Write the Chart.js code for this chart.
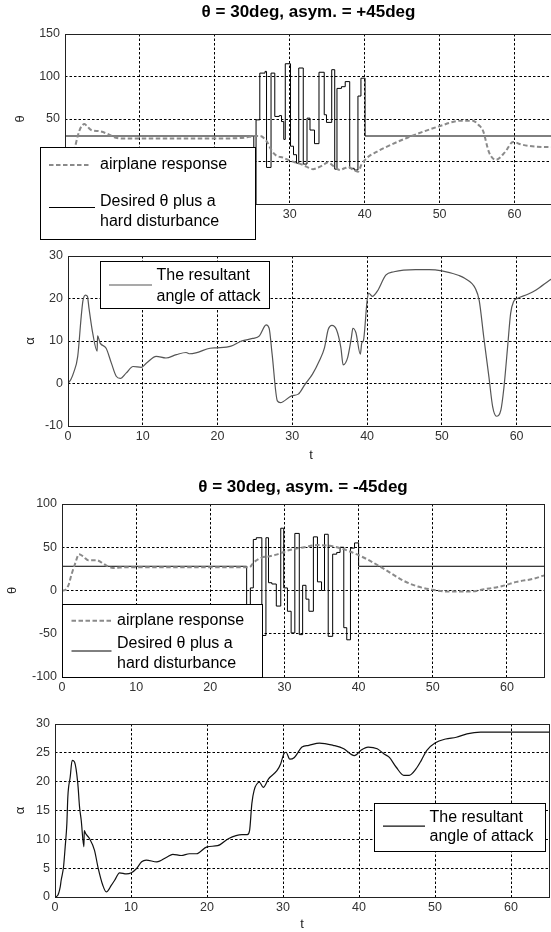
<!DOCTYPE html>
<html>
<head>
<meta charset="utf-8">
<script src="https://cdn.jsdelivr.net/npm/chart.js@4.4.0/dist/chart.umd.min.js"></script>
<style>
  html, body { margin: 0; padding: 0; background: #fff; }
  #page { position: relative; width: 551px; height: 932px; overflow: hidden; background: #fff; }
  #page canvas { position: absolute; left: 0; }
</style>
</head>
<body>
<div id="page">
  <canvas id="thetaPlus" width="560" height="240" style="top:0px"></canvas>
  <canvas id="alphaPlus" width="560" height="230" style="top:240px"></canvas>
  <canvas id="thetaMinus" width="560" height="230" style="top:470px"></canvas>
  <canvas id="alphaMinus" width="560" height="232" style="top:700px"></canvas>
</div>
<script>
// values, time t in s, angles in deg

// asym. = +45deg : airplane response (dashed)
var tRespPlus = [0, 0.6, 1.3, 1.7, 2.1, 2.6, 3.0, 3.5, 4.6, 5.7, 6.8, 8, 10, 15, 20, 24, 25.3, 26.0, 26.9, 27.6,
  28.2, 29.1, 30.0, 31.3, 32.2, 33.1, 33.8, 34.4, 35.1, 35.9, 36.7, 37.3, 37.8, 38.5, 39.1, 39.6, 40.4, 41.5, 42.6, 45.7,
  49.8, 52.9, 54.4, 55.2, 55.8, 56.6, 57.5, 58.7, 59.8, 60.9, 62.7, 65];
var thetaRespPlus = [0, 3, 16, 30, 40, 44, 41, 37, 35.6, 32.5, 28, 27, 27, 27, 27, 28, 30, 30, 24, 12.6,
  7, 4.6, 1, -2.5, -6, -9, -7, -4.6, -1, -6, -10, -8, -6.5, -10, -12, -3, 5, 11, 16, 28,
  41, 48, 48, 43, 36, 10.7, 2, 10.7, 23, 20, 17.6, 17];
// asym. = +45deg : desired theta plus hard disturbance (steps)
var tCmdPlus = [0, 25.2, 25.5, 26.0, 26.7, 26.9, 27.5, 28.0, 28.6, 28.9, 29.2, 29.4, 30.1, 30.5, 30.9, 31.2, 31.8,
  32.3, 32.7, 33.3, 33.9, 34.6, 34.9, 35.6, 36.0, 36.3, 36.9, 37.4, 38.0, 38.6, 39.1, 39.5, 40.05, 65];
var thetaCmdPlus = [30, -60, 49, 104, 106, -7, 104, 53, 54, 47, 26, 115, 18, 8, -2, 110, -3,
  51, 37, 21, 105, 55, 46, 108, -9, 86, 88, 94, -8, -10, 77, 98, 30, 30];
// asym. = +45deg : angle of attack
var tAlphaPlus = [0, 0.4, 0.74, 1.3, 1.77, 2.0, 2.34, 2.6, 2.8, 3.3, 3.9, 3.95, 4.3, 5.1, 5.8, 6.45, 7.0, 7.8, 8.7, 9.8,
  10.5, 11.8, 13.1, 14.5, 15.8, 16.2, 17.1, 19, 19.9, 21.8, 23.2, 24.7, 25.6, 26.3, 26.5, 26.9, 27.3, 28.0, 28.4, 29.9,
  30.8, 31.7, 32.7, 33.6, 34.3, 34.8, 35.3, 35.9, 36.5, 36.8, 37.4, 37.9, 38.1, 38.5, 39.1, 39.3, 39.5, 40.0, 40.2, 40.7,
  41.4, 42.5, 43.6, 46.5, 48.3, 50.0, 52.3, 53.0, 54.5, 55.0, 55.6, 56.3, 56.8, 57.3, 57.9, 58.3, 58.8, 59.2, 59.6, 60.1,
  61.5, 62.6, 64.4, 65];
var alphaPlus = [0, 1, 2.5, 6.4, 15.8, 19.5, 20.8, 20.5, 17.8, 11.9, 7.6, 11.2, 9.5, 8.3, 4.8, 1.7, 1.2, 2.5, 4.0, 3.8,
  4.8, 6.4, 6.0, 6.8, 7.3, 7.0, 7.2, 8.3, 8.4, 8.8, 10, 10.6, 11.2, 13.5, 13.8, 13, 6.9, -4.1, -4.5, -2.9,
  -2.5, -0.2, 2.2, 5.3, 8.4, 12.7, 13.7, 12.7, 8.4, 4.4, 6.1, 10.8, 13, 12, 6.9, 9.6, 10, 19.4, 21.3, 20.5,
  21.8, 25.5, 26.3, 26.8, 26.8, 26.5, 25.4, 24.8, 22.3, 19.5, 11, 1.5, -5.5, -7.7, -6.2, -1, 8.7, 16.5, 19.3, 20,
  21, 22, 24.3, 25];

// asym. = -45deg : airplane response (dashed)
var tRespMinus = [0, 0.2, 0.85, 1.3, 1.75, 2.3, 2.9, 3.55, 4.7, 5.3, 6.0, 6.9, 8.7, 12, 18, 24.8, 25.3, 25.8, 26.9, 28.0,
  28.9, 30.7, 32.5, 34.5, 36.1, 37.9, 39.7, 41.5, 43.8, 46.0, 48.0, 49.9, 51.8, 55.1, 57.0, 59.4, 61.3, 63.7, 65];
var thetaRespMinus = [0, 0, 5.7, 19, 30.6, 42, 39, 35, 35, 32.6, 28.7, 26, 27, 27, 27, 27, 27, 32, 38, 39.5,
  41.5, 46.8, 49.8, 52.5, 51.7, 47.9, 42, 34.5, 23, 11.5, 4.6, 1, -1.1, -1.1, 1.5, 5.2, 10, 13.8, 17.5];
// asym. = -45deg : desired theta plus hard disturbance (steps)
var tCmdMinus = [0, 24.9, 25.4, 25.8, 26.2, 26.95, 27.5, 27.85, 28.3, 28.9, 29.5, 29.9, 30.4, 30.9, 31.4, 32.0, 32.45,
  32.9, 33.3, 33.9, 34.45, 35.0, 35.4, 35.9, 36.5, 37.05, 37.5, 38.0, 38.4, 38.9, 39.45, 40.0, 65];
var thetaCmdMinus = [28, -120, 3, 59, 61, -52, 61, 9, 7.5, -18, 72, 3, -24, -49, 66, -51, 6,
  -10, -24, 62, 10, 0, 65, -53, 42, 44, 50, -43, -57, 49, 55, 28, 28];
// asym. = -45deg : angle of attack
var tAlphaMinus = [0, 0.37, 0.68, 0.81, 1.12, 1.34, 1.56, 1.69, 2.0, 2.26, 2.57, 3.0, 3.23, 3.45, 3.8, 3.85, 4.03, 4.55, 5.2, 5.65,
  6.3, 6.75, 7.4, 7.85, 8.5, 9.4, 10.05, 10.7, 11.4, 12.0, 13.4, 14.7, 15.5, 16.6, 17.7, 18.6, 20, 21.4, 22.8, 24.6,
  25.3, 25.6, 25.9, 26.2, 26.9, 27.4, 28.1, 29.2, 29.7, 30.1, 30.4, 30.9, 31.5, 32.5, 33.4, 34.8, 36.6, 38, 38.9, 39.4,
  40.3, 41.2, 42.4, 43.3, 44, 44.9, 45.9, 46.6, 47.5, 48.2, 48.9, 50, 51.4, 52.8, 54.2, 56, 59.7, 65];
var alphaMinus = [0, 0.3, 1.7, 2.9, 5.2, 8.7, 12.7, 17.4, 20.8, 23.7, 23.4, 19.7, 15.6, 13.3, 8.7, 11.5, 11, 10.1, 8.1, 5.2,
  2.0, 0.88, 2.0, 2.9, 4.2, 4.0, 4.2, 4.9, 6.1, 6.4, 6.1, 6.9, 7.4, 7.2, 7.5, 7.5, 8.7, 8.9, 10.1, 10.8,
  10.8, 11.5, 16.2, 18.5, 19.9, 19, 20.5, 21.9, 23.1, 24.8, 25.1, 23.9, 24.2, 26, 26.3, 26.7, 26.3, 25.7, 24.8, 24.5,
  25.5, 26, 25.7, 24.8, 24.2, 22.5, 21.1, 21.1, 22.2, 23.7, 25.4, 26.7, 27.4, 27.7, 28.3, 28.6, 28.6, 28.6];

var titlePlus = '\u03b8 = 30deg, asym. = +45deg';
var titleMinus = '\u03b8 = 30deg, asym. = -45deg';
var respLegend = ['airplane response'];
var cmdLegend = ['Desired \u03b8 plus a', 'hard disturbance'];
var alphaLegend = ['The resultant', 'angle of attack'];

var FONT = '"Liberation Sans", Arial, Helvetica, sans-serif';
Chart.defaults.font.family = FONT;
Chart.defaults.color = '#333';

function pts(xs, ys) {
  return xs.map(function (x, i) { return { x: x, y: ys[i] }; });
}

// full box around the axes
var framePlugin = {
  id: 'frame',
  afterDatasetsDraw: function (chart) {
    var a = chart.chartArea, ctx = chart.ctx;
    ctx.save();
    ctx.strokeStyle = '#222';
    ctx.lineWidth = 1;
    ctx.strokeRect(Math.round(a.left) + 0.5, Math.round(a.top) + 0.5,
      Math.round(a.right - a.left), Math.round(a.bottom - a.top));
    ctx.restore();
  }
};

// title centred over the axes (not over the canvas)
var headPlugin = {
  id: 'head',
  afterDraw: function (chart, args, opts) {
    if (!opts.text) return;
    var a = chart.chartArea, ctx = chart.ctx;
    ctx.save();
    ctx.font = 'bold 17px ' + FONT;
    ctx.fillStyle = '#000';
    ctx.textAlign = 'center';
    ctx.textBaseline = 'middle';
    ctx.fillText(opts.text, (a.left + a.right) / 2, opts.y);
    ctx.restore();
  }
};

// boxed legend like matlab's, multi line entries
var boxLegend = {
  id: 'boxLegend',
  afterDraw: function (chart, args, opts) {
    if (!opts.box) return;
    var ctx = chart.ctx, b = opts.box;
    ctx.save();
    ctx.fillStyle = '#fff';
    ctx.fillRect(b[0], b[1], b[2] - b[0], b[3] - b[1]);
    ctx.strokeStyle = '#000';
    ctx.lineWidth = 1;
    ctx.strokeRect(b[0] + 0.5, b[1] + 0.5, b[2] - b[0], b[3] - b[1]);
    opts.items.forEach(function (it) {
      var ds = chart.data.datasets[it.dataset];
      ctx.save();
      ctx.strokeStyle = ds.borderColor;
      ctx.lineWidth = ds.borderWidth;
      ctx.setLineDash(ds.borderDash || []);
      ctx.beginPath();
      ctx.moveTo(it.line[0], it.line[2]);
      ctx.lineTo(it.line[1], it.line[2]);
      ctx.stroke();
      ctx.restore();
      ctx.font = '16px ' + FONT;
      ctx.fillStyle = '#000';
      ctx.textAlign = 'left';
      ctx.textBaseline = 'middle';
      it.text.forEach(function (s, k) { ctx.fillText(s, it.x, it.y[k]); });
    });
    ctx.restore();
  }
};

function panel(id, o) {
  return new Chart(document.getElementById(id), {
    type: 'line',
    data: { datasets: o.datasets },
    options: {
      responsive: false,
      animation: false,
      events: [],
      layout: { padding: o.pad },
      plugins: {
        legend: { display: false },
        tooltip: { enabled: false },
        head: o.head || {},
        boxLegend: o.legend
      },
      scales: {
        x: {
          type: 'linear', min: 0, max: 65,
          afterFit: function (s) { s.height = o.xh; },
          ticks: { stepSize: 10, includeBounds: false, padding: 3.5, font: { size: 12.5 }, color: '#333' },
          grid: { color: '#000', lineWidth: 1, drawTicks: false },
          border: { display: false, dash: [2.5, 2] },
          title: {
            display: !!o.xTitle, text: 't', color: '#222', font: { size: 13 },
            padding: { top: 0, bottom: o.xTitlePad || 0 }
          }
        },
        y: {
          type: 'linear', min: o.ymin, max: o.ymax,
          afterFit: function (s) { s.width = o.yw; },
          ticks: { stepSize: o.ystep, padding: 5, font: { size: 12.5 }, color: '#333' },
          grid: { color: '#000', lineWidth: 1, drawTicks: false },
          border: { display: false, dash: [2.5, 2] },
          title: {
            display: true, text: o.yTitle, color: '#222', font: { size: 13 },
            padding: { top: o.yTitlePad, bottom: 0 }
          }
        }
      }
    },
    plugins: [framePlugin, headPlugin, boxLegend]
  });
}

function respSet(xs, ys) {
  return {
    label: respLegend.join(' '), data: pts(xs, ys),
    borderColor: '#8a8a8a', borderWidth: 2, borderDash: [4.5, 2.5],
    pointRadius: 0, cubicInterpolationMode: 'monotone', fill: false
  };
}
function cmdSet(xs, ys) {
  return {
    label: cmdLegend.join(' '), data: pts(xs, ys),
    borderColor: '#000', borderWidth: 1, stepped: 'before',
    pointRadius: 0, fill: false
  };
}
function alphaSet(xs, ys, col) {
  return {
    label: alphaLegend.join(' '), data: pts(xs, ys),
    borderColor: col, borderWidth: 1.2,
    pointRadius: 0, cubicInterpolationMode: 'monotone', fill: false
  };
}

panel('thetaPlus', {
  datasets: [respSet(tRespPlus, thetaRespPlus), cmdSet(tCmdPlus, thetaCmdPlus)],
  pad: { top: 34, left: 0, right: 8, bottom: 0 },
  xh: 36, yw: 65, ymin: -50, ymax: 150, ystep: 50,
  yTitle: '\u03b8', yTitlePad: 12.9,
  head: { text: titlePlus, y: 12 },
  legend: {
    box: [40, 147, 255, 239],
    items: [
      { dataset: 0, line: [49, 89, 165], text: respLegend, x: 100, y: [165] },
      { dataset: 1, line: [49, 95, 207.5], text: cmdLegend, x: 100, y: [201.5, 221.5] }
    ]
  }
});

panel('alphaPlus', {
  datasets: [alphaSet(tAlphaPlus, alphaPlus, '#555')],
  pad: { top: 16, left: 0, right: 6, bottom: 0 },
  xh: 44, yw: 68, ymin: -10, ymax: 30, ystep: 10,
  yTitle: '\u03b1', yTitlePad: 22.9,
  xTitle: true, xTitlePad: 7.2,
  legend: {
    box: [100, 21, 269, 68],
    items: [
      { dataset: 0, line: [109, 152, 45], text: alphaLegend, x: 156.5, y: [35.7, 56.7] }
    ]
  }
});

panel('thetaMinus', {
  datasets: [respSet(tRespMinus, thetaRespMinus), cmdSet(tCmdMinus, thetaCmdMinus)],
  pad: { top: 34, left: 0, right: 16, bottom: 0 },
  xh: 23, yw: 62, ymin: -100, ymax: 100, ystep: 50,
  yTitle: '\u03b8', yTitlePad: 4.5,
  head: { text: titleMinus, y: 17 },
  legend: {
    box: [62, 134, 262, 207],
    items: [
      { dataset: 0, line: [71.5, 111.5, 150.7], text: respLegend, x: 117, y: [150.7] },
      { dataset: 1, line: [71.5, 111.5, 181], text: cmdLegend, x: 117, y: [173.3, 193.3] }
    ]
  }
});

panel('alphaMinus', {
  datasets: [alphaSet(tAlphaMinus, alphaMinus, '#111')],
  pad: { top: 24, left: 0, right: 11, bottom: 0 },
  xh: 35, yw: 55, ymin: 0, ymax: 30, ystep: 5,
  yTitle: '\u03b1', yTitlePad: 12.9,
  xTitle: true, xTitlePad: 0,
  legend: {
    box: [374, 103, 545, 151],
    items: [
      { dataset: 0, line: [383, 425, 126.2], text: alphaLegend, x: 429.5, y: [117.9, 136.9] }
    ]
  }
});
</script>
</body>
</html>
